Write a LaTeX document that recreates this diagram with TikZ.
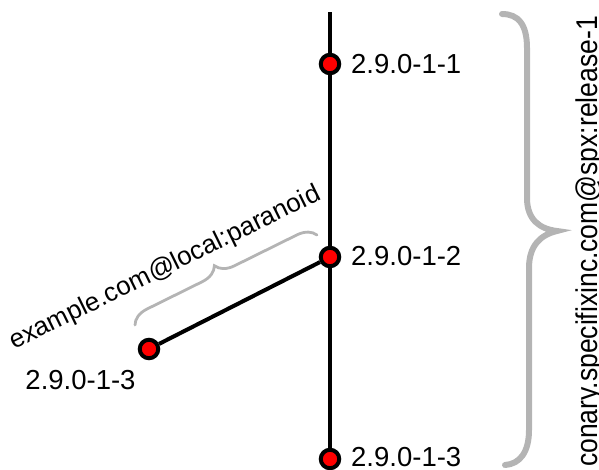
\documentclass[tikz,border=0pt]{standalone}
\usepackage{fontspec}
\usepackage{graphicx}
\setmainfont{Liberation Sans}
\usetikzlibrary{decorations.pathreplacing}
\definecolor{bracegray}{RGB}{180,180,180}
\definecolor{dotred}{RGB}{255,0,0}
\begin{document}
\begin{tikzpicture}[x=1pt,y=-1pt,
  rev/.style={circle,draw=black,fill=dotred,line width=4pt,minimum size=18.5pt,inner sep=0pt},
  trunk/.style={line width=4pt,draw=black},
  vlabel/.style={inner sep=0pt,font=\fontsize{27.5}{30}\selectfont},
  bigbrace/.style={draw=bracegray,line width=6pt,line cap=round},
  smallbrace/.style={draw=bracegray,line width=2.8pt,line cap=round,decorate,decoration={brace,amplitude=18pt,aspect=0.48}},
  bracetext/.style={inner sep=0pt},
]
\useasboundingbox (0,0) rectangle (599,469);
\coordinate (top) at (330,12);
\coordinate (bot) at (330,480);
\node[rev] (n1) at (330,64) {};
\node[rev] (n2) at (330,257) {};
\node[rev] (n3) at (330,459) {};
\node[rev] (b1) at (149,349) {};
\draw[trunk] (top) -- (n1) -- (n2) -- (n3) -- (bot);
\draw[trunk] (b1) -- (n2);
\node[vlabel,anchor=west] (l1) at (351,64) {2.9.0-1-1};
\node[vlabel,anchor=west] (l2) at (351,256) {2.9.0-1-2};
\node[vlabel,anchor=west] (l3) at (351,457) {2.9.0-1-3};
\node[vlabel] (lb) at (80.5,380) {2.9.0-1-3};
% small brace over the branch
\coordinate (sbl) at (135,325);
\coordinate (sbr) at (317,235);
\draw[smallbrace] (sbl) -- (sbr);
\node[bracetext,rotate=26.1,anchor=base west] (st) at (14,350) {\fontsize{26}{29}\selectfont example.com@local:paranoid};
% big brace on the right
\draw[bigbrace] (502,14) .. controls (518,14) and (527,24) .. (527,48) -- (527,198) .. controls (527,220) and (540,229) .. (557,231) .. controls (540,235) and (529,246) .. (529,268) -- (529,430) .. controls (529,452) and (520,464) .. (505,465);
\node[bracetext,rotate=90,anchor=base] (bt) at (597,241.5) {\fontsize{30}{33}\selectfont\scalebox{0.884}[1]{conary.specifixinc.com@spx:release-1}};
\end{tikzpicture}
\end{document}
